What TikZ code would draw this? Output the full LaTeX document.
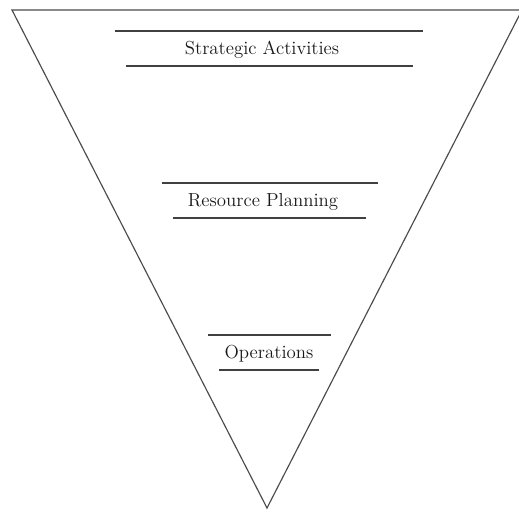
\documentclass[tikz,border=0pt]{standalone}
\usetikzlibrary{positioning}

\begin{document}
\begin{tikzpicture}[x=0.6pt, y=-0.6pt, line width=0.7pt,
    livello/.style={font=\fontsize{11.3}{13.5}\selectfont, text=black!90, inner sep=2pt},
    riga/.style={draw=black!75, line width=0.8pt}]

    % cornice dell'immagine
    \useasboundingbox (0,0) rectangle (519,512);
    \clip (0,0) rectangle (519,512);

    % -- Triangolo rovesciato --
    \coordinate (sx) at (12,10);
    \coordinate (dx) at (522,10);
    \coordinate (punta) at (267,508);
    \draw[draw=black!70] (sx) -- (dx) -- (punta) -- cycle;

    % -- Livelli --
    \node[livello] (strategia) at (262,50) {Strategic Activities};
    \draw[riga] (115,31) -- (423,31);
    \draw[riga] (126,66) -- (413,66);

    \node[livello] (risorse) at (263,202) {Resource Planning};
    \draw[riga] (162,183) -- (378,183);
    \draw[riga] (173,218) -- (366,218);

    \node[livello] (operazioni) at (269,354) {Operations};
    \draw[riga] (208,335) -- (331,335);
    \draw[riga] (219,370) -- (319,370);

\end{tikzpicture}
\end{document}
